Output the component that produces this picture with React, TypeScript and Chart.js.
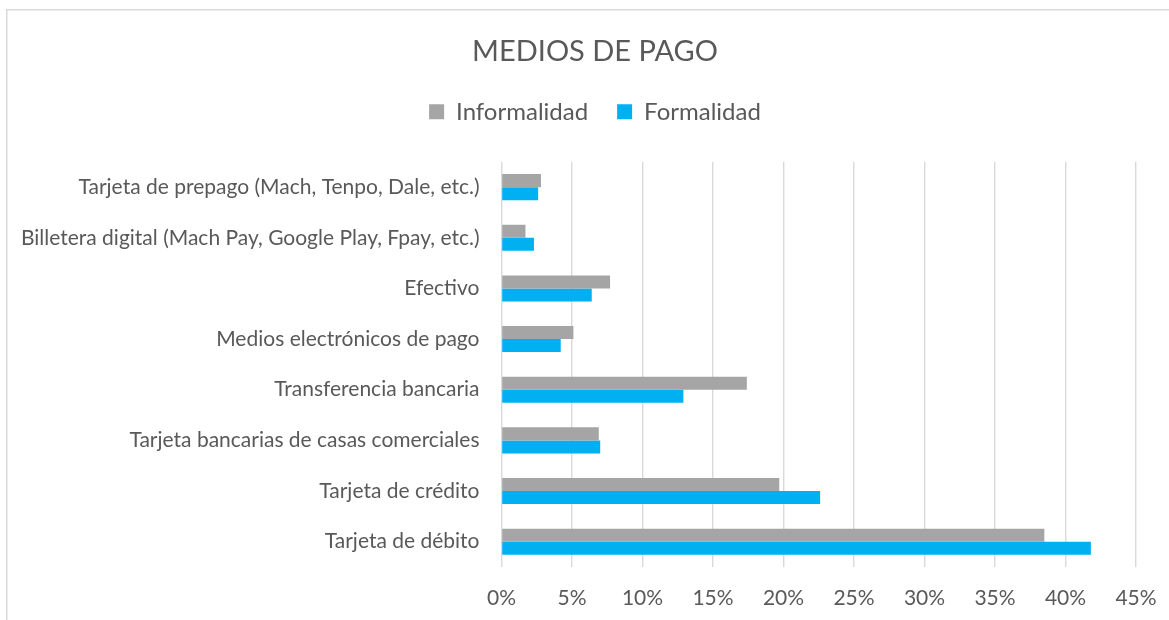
import React, { useEffect, useRef } from "react";
import { Chart, registerables } from "chart.js";

Chart.register(...registerables);

const categories = [
  "Tarjeta de prepago (Mach, Tenpo, Dale, etc.)",
  "Billetera digital (Mach Pay, Google Play, Fpay, etc.)",
  "Efectivo",
  "Medios electrónicos de pago",
  "Transferencia bancaria",
  "Tarjeta bancarias de casas comerciales",
  "Tarjeta de crédito",
  "Tarjeta de débito",
];

const informalidad = [2.8, 1.7, 7.7, 5.1, 17.4, 6.9, 19.7, 38.5];
const formalidad = [2.6, 2.3, 6.4, 4.2, 12.9, 7.0, 22.6, 41.8];

const xTicks = [0, 5, 10, 15, 20, 25, 30, 35, 40, 45];

const FONT = "Lato, 'Open Sans', sans-serif";
const TEXT = "#595959";
const GRID = "#d9d9d9";
const W = 1190;
const H = 620;

const frame = {
  id: "frame",
  beforeDraw(chart: any) {
    const ctx = chart.ctx;
    ctx.save();
    ctx.fillStyle = "#ffffff";
    ctx.fillRect(0, 0, chart.width, chart.height);
    ctx.strokeStyle = GRID;
    ctx.lineWidth = 1.5;
    ctx.strokeRect(6.75, 9.75, chart.width + 50, chart.height + 50);
    ctx.restore();
  },
};

const legendGap = {
  id: "legendGap",
  beforeInit(chart: any) {
    if (!chart.legend) return;
    const orig = chart.legend.fit;
    chart.legend.fit = function () {
      orig.bind(chart.legend)();
      this.height += 28;
    };
  },
};

export default function App() {
  const ref = useRef<HTMLCanvasElement>(null);
  useEffect(() => {
    if (!ref.current) return;
    const chart = new Chart(ref.current, {
      type: "bar",
      data: {
        labels: categories,
        datasets: [
          {
            label: "Informalidad",
            data: informalidad,
            backgroundColor: "#a5a5a5",
            categoryPercentage: 0.515,
            barPercentage: 1,
          },
          {
            label: "Formalidad",
            data: formalidad,
            backgroundColor: "#00b0f0",
            categoryPercentage: 0.515,
            barPercentage: 1,
          },
        ],
      },
      options: {
        indexAxis: "y",
        animation: false,
        responsive: false,
        maintainAspectRatio: false,
        layout: { padding: 0 },
        plugins: {
          title: {
            display: true,
            text: "MEDIOS DE PAGO",
            color: TEXT,
            font: { family: FONT, size: 29, weight: "normal" },
            padding: { top: 34, bottom: 2 },
          },
          legend: {
            display: true,
            position: "top",
            labels: {
              color: TEXT,
              font: { family: FONT, size: 24 },
              boxWidth: 15,
              boxHeight: 15,
              padding: 29,
            },
          },
          tooltip: { enabled: false },
        },
        scales: {
          x: {
            min: 0,
            max: 45,
            afterBuildTicks(scale: any) {
              scale.ticks = xTicks.map((v) => ({ value: v }));
            },
            grid: { color: GRID, lineWidth: 1.4, drawTicks: false },
            border: { display: false },
            ticks: {
              color: TEXT,
              font: { family: FONT, size: 21 },
              padding: 19,
              callback: (v: any) => v + "%",
            },
            afterFit(scale: any) {
              scale.height = 53;
              scale.paddingRight = W - 1136;
            },
          },
          y: {
            grid: { display: false, drawTicks: false },
            border: { display: false },
            ticks: {
              color: TEXT,
              font: { family: FONT, size: 21 },
              padding: 22,
            },
            afterFit(scale: any) {
              scale.width = 501.5;
            },
          },
        },
      },
      plugins: [frame, legendGap],
    });
    return () => chart.destroy();
  }, []);
  return (
    <canvas
      ref={ref}
      width={W}
      height={H}
      style={{ position: "fixed", left: 0, top: 0, width: W, height: H }}
    />
  );
}
